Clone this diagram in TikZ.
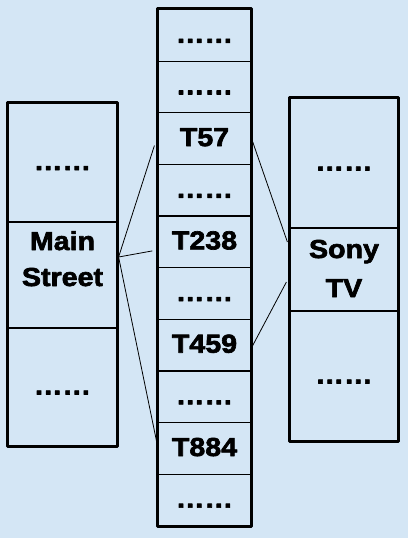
\documentclass[tikz,border=0pt]{standalone}
\usepackage{fontspec}
\setmainfont{Liberation Sans}[BoldFeatures={FakeBold=2.5,FakeStretch=1.1}]
\usetikzlibrary{calc}
\definecolor{paper}{HTML}{D4E6F5}
\tikzset{
  cell/.style={draw=black, line width=1.2pt, inner sep=0pt, align=center,
    font=\fontsize{26}{37}\selectfont\bfseries, text height=19pt, text depth=4pt},
  frame/.style={draw=black, line width=3pt},
  link/.style={draw=black, line width=0.8pt}
}

\begin{document}
\begin{tikzpicture}[x=1pt,y=-1pt, line join=round]
    \fill[paper] (0,0) rectangle (408,538);
    \useasboundingbox (0,0) rectangle (408,538);

    % middle column
    \foreach \lab/\name [count=\i from 0] in
      {……/m0, ……/m1, T57/t57, ……/m3, T238/t238, ……/m5, T459/t459, ……/m7, T884/t884, ……/m9}
    {
    \node[cell, minimum width=93pt, minimum height=51.65pt] (\name) at (204.5, 35.3+51.65*\i) {\lab};
    }
    \draw[frame] (m0.north west) rectangle (m9.south east);

    % left column
    \node[cell, minimum width=109pt, minimum height=119pt] (l1) at (62.5,162.5) {……};
    \node[cell, minimum width=109pt, minimum height=106pt, text height=22pt, text depth=0pt,
      font=\fontsize{26}{36}\selectfont\bfseries] (l2) at (62.5,275) {Main\\Street};
    \node[cell, minimum width=109pt, minimum height=118pt] (l3) at (62.5,387) {……};
    \draw[frame] (l1.north west) rectangle (l3.south east);

    % right column
    \node[cell, minimum width=108pt, minimum height=130pt] (r1) at (344,163) {……};
    \node[cell, minimum width=108pt, minimum height=83pt, text height=55pt, text depth=0pt,
      font=\fontsize{26}{39}\selectfont\bfseries] (r2) at (344,269.5) {Sony\\TV};
    \node[cell, minimum width=108pt, minimum height=130pt] (r3) at (344,376) {……};
    \draw[frame] (r1.north west) rectangle (r3.south east);

    % links
    \coordinate (hub) at ($(l2.east)+(1,-18)$);
    \draw[link] (hub) -- ($(t57.west)+(-3,7)$);
    \draw[link] (hub) -- ($(t238.west)+(-5,9)$);
    \draw[link] (hub) -- ($(t884.west)+(-1,-8)$);
    \draw[link] ($(t57.east)+(1,3)$) -- ($(r2.west)+(-2,-27.5)$);
    \draw[link] ($(t459.east)+(1,0.5)$) -- ($(r2.west)+(-3,12.5)$);
\end{tikzpicture}
\end{document}
